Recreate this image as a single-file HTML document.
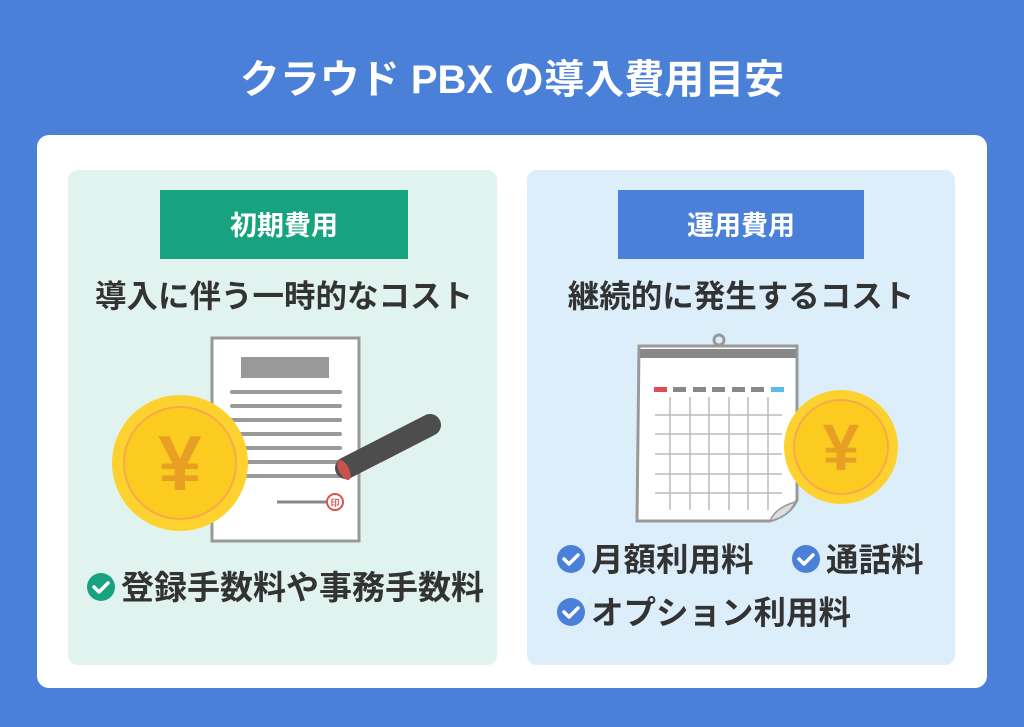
<!DOCTYPE html>
<html><head><meta charset="utf-8"><style>
html,body{margin:0;padding:0;}
body{width:1024px;height:727px;overflow:hidden;background:#4a80d8;}
svg{display:block;}
text{font-family:"Liberation Sans","Noto Sans CJK JP",sans-serif;font-weight:bold;}
</style></head><body>
<svg width="1024" height="727" viewBox="0 0 1024 727">
<rect width="1024" height="727" fill="#4a80d8"/>
<text x="512" y="93" text-anchor="middle" font-size="40" fill="#fff">クラウド PBX の導入費用目安</text>
<rect x="37" y="135" width="950" height="553" rx="12" fill="#fff"/>
<rect x="68" y="170" width="429" height="495" rx="10" fill="#e0f3ee"/>
<rect x="527" y="170" width="428" height="495" rx="10" fill="#ddeefb"/>
<rect x="160" y="190" width="248" height="69" fill="#17a37f"/>
<text x="284" y="235" text-anchor="middle" font-size="27" fill="#fff">初期費用</text>
<rect x="618" y="190" width="246" height="69" fill="#4a80d8"/>
<text x="741" y="235" text-anchor="middle" font-size="27" fill="#fff">運用費用</text>
<text x="284" y="307" text-anchor="middle" font-size="31.5" fill="#333">導入に伴う一時的なコスト</text>
<text x="741" y="307" text-anchor="middle" font-size="31.5" fill="#333">継続的に発生するコスト</text>

<!-- document -->
<rect x="212" y="338" width="147" height="203" fill="#fff" stroke="#999" stroke-width="3"/>
<rect x="241" y="357" width="88" height="21" fill="#999"/>
<g stroke="#999" stroke-width="4" stroke-linecap="round">
<line x1="232" y1="392" x2="340" y2="392"/><line x1="232" y1="406" x2="340" y2="406"/>
<line x1="232" y1="420" x2="340" y2="420"/><line x1="232" y1="434" x2="340" y2="434"/>
<line x1="232" y1="448" x2="340" y2="448"/><line x1="232" y1="462" x2="340" y2="462"/>
<line x1="232" y1="476" x2="340" y2="476"/>
</g>
<line x1="277" y1="502" x2="330" y2="502" stroke="#888" stroke-width="3"/>
<circle cx="335" cy="502" r="8" fill="#fff" stroke="#d9534f" stroke-width="2"/>
<text x="335" y="506" text-anchor="middle" font-size="9" fill="#d9534f">印</text>
<line x1="346" y1="468" x2="430" y2="425" stroke="#4d4d4d" stroke-width="22" stroke-linecap="round"/>
<ellipse cx="344" cy="470" rx="5" ry="11" transform="rotate(-27 344 470)" fill="#c9514e"/>
<!-- coin left -->
<circle cx="180" cy="463" r="68" fill="#fdd22f"/>
<circle cx="180" cy="463" r="56" fill="#fccb20" stroke="#f7a94b" stroke-width="2"/>
<text x="180" y="490" text-anchor="middle" font-size="78" fill="#e8a024">¥</text>

<!-- calendar -->
<path d="M639 346 H797 V500 Q790 515 770 521 H637 Z" fill="#fff" stroke="#999" stroke-width="3"/>
<rect x="640" y="349" width="156" height="9" fill="#888"/>
<circle cx="719" cy="340" r="5" fill="none" stroke="#999" stroke-width="3"/>
<path d="M770 521 Q775 508 795 502 Q790 516 770 521Z" fill="#ddd" stroke="#999" stroke-width="1.5"/>
<g>
<rect x="654" y="387" width="13" height="5" fill="#e04c55"/>
<rect x="673" y="387" width="13" height="5" fill="#888"/>
<rect x="693" y="387" width="13" height="5" fill="#888"/>
<rect x="712" y="387" width="13" height="5" fill="#888"/>
<rect x="732" y="387" width="13" height="5" fill="#888"/>
<rect x="751" y="387" width="13" height="5" fill="#888"/>
<rect x="771" y="387" width="13" height="5" fill="#5bbce8"/>
</g>
<g stroke="#bbb" stroke-width="1.5">
<line x1="670" y1="397" x2="670" y2="510"/><line x1="690" y1="397" x2="690" y2="510"/>
<line x1="709" y1="397" x2="709" y2="510"/><line x1="729" y1="397" x2="729" y2="510"/>
<line x1="748" y1="397" x2="748" y2="510"/><line x1="768" y1="397" x2="768" y2="510"/>
<line x1="655" y1="415" x2="782" y2="415"/><line x1="655" y1="434" x2="782" y2="434"/>
<line x1="655" y1="454" x2="782" y2="454"/><line x1="655" y1="474" x2="782" y2="474"/>
<line x1="655" y1="493" x2="782" y2="493"/>
</g>
<!-- coin right -->
<circle cx="841" cy="447" r="57" fill="#fdd22f"/>
<circle cx="841" cy="447" r="47" fill="#fccb20" stroke="#f7a94b" stroke-width="2"/>
<text x="841" y="470" text-anchor="middle" font-size="66" fill="#e8a024">¥</text>

<!-- checks -->
<g>
<circle cx="101" cy="587" r="14" fill="#17a37f"/>
<path d="M94 587 l5 5 l9 -9" fill="none" stroke="#fff" stroke-width="3.5" stroke-linecap="round" stroke-linejoin="round"/>
<text x="121" y="599" font-size="33" fill="#333">登録手数料や事務手数料</text>
</g>
<g>
<circle cx="571" cy="559" r="14" fill="#4a80d8"/>
<path d="M564 559 l5 5 l9 -9" fill="none" stroke="#fff" stroke-width="3.5" stroke-linecap="round" stroke-linejoin="round"/>
<text x="591" y="571" font-size="32.5" fill="#333">月額利用料</text>
<circle cx="806" cy="559" r="14" fill="#4a80d8"/>
<path d="M799 559 l5 5 l9 -9" fill="none" stroke="#fff" stroke-width="3.5" stroke-linecap="round" stroke-linejoin="round"/>
<text x="826" y="571" font-size="32.5" fill="#333">通話料</text>
<circle cx="571" cy="612" r="14" fill="#4a80d8"/>
<path d="M564 612 l5 5 l9 -9" fill="none" stroke="#fff" stroke-width="3.5" stroke-linecap="round" stroke-linejoin="round"/>
<text x="591" y="624" font-size="32.5" fill="#333">オプション利用料</text>
</g>
</svg>
</body></html>
